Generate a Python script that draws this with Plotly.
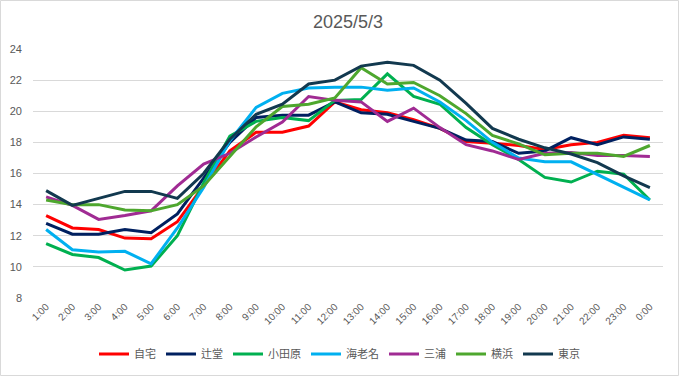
import plotly.graph_objects as go

hours = ["1:00","2:00","3:00","4:00","5:00","6:00","7:00","8:00","9:00","10:00","11:00","12:00",
         "13:00","14:00","15:00","16:00","17:00","18:00","19:00","20:00","21:00","22:00","23:00","0:00"]

jitaku   = [13.3,12.5,12.4,11.85,11.8,12.9,15.2,17.45,18.65,18.65,19.05,20.6,20.1,19.9,19.45,18.9,18.05,17.95,17.8,17.55,17.85,18.0,18.45,18.3]
tsujido  = [12.8,12.1,12.1,12.4,12.2,13.4,15.7,18.0,19.6,19.75,19.75,20.6,19.9,19.8,19.35,18.9,18.15,18.05,17.3,17.45,18.3,17.85,18.35,18.2]
odawara  = [11.5,10.8,10.6,9.8,10.05,12.0,15.4,18.4,19.35,19.6,19.4,20.7,20.75,22.4,20.95,20.45,18.95,17.85,16.9,15.75,15.45,16.15,15.95,14.3]
ebina    = [12.4,11.1,10.95,11.0,10.2,12.5,15.1,18.1,20.25,21.15,21.5,21.55,21.55,21.35,21.5,20.6,19.4,18.0,17.0,16.75,16.75,15.95,15.15,14.3]
miura    = [14.5,13.95,13.05,13.3,13.6,15.2,16.6,17.3,18.35,19.3,20.95,20.7,20.6,19.35,20.2,18.95,17.85,17.45,16.9,17.3,17.35,17.15,17.15,17.1]
yokohama = [14.3,14.0,14.0,13.65,13.6,14.0,15.2,17.1,19.0,20.3,20.45,20.85,22.8,21.75,21.85,21.0,19.85,18.45,17.9,17.2,17.3,17.3,17.1,17.8]
tokyo    = [14.9,13.95,14.4,14.85,14.85,14.4,16.0,18.2,19.8,20.45,21.75,22.0,22.9,23.15,22.95,22.0,20.5,18.9,18.2,17.65,17.25,16.7,15.85,15.1]

series = [
    ("自宅", jitaku, "#FF0000"),
    ("辻堂", tsujido, "#002060"),
    ("小田原", odawara, "#00B050"),
    ("海老名", ebina, "#00B0F0"),
    ("三浦", miura, "#A02B93"),
    ("横浜", yokohama, "#4EA72E"),
    ("東京", tokyo, "#12394F"),
]

yticks = [8, 10, 12, 14, 16, 18, 20, 22, 24]

fig = go.Figure()
for name, vals, col in series:
    fig.add_trace(go.Scatter(x=hours, y=vals, name=name, mode="lines",
                             line=dict(color=col, width=3)))

font_main = "Liberation Sans, Arial, Noto Sans CJK JP, sans-serif"
fig.update_layout(
    width=679, height=376,
    margin=dict(l=33, r=16, t=49, b=78, autoexpand=False),
    paper_bgcolor="white", plot_bgcolor="white",
    font=dict(family=font_main, color="#595959", size=11),
    title=dict(text="2025/5/3", x=0.5, xanchor="center", xref="paper",
               yref="container", y=1 - 22/376, yanchor="middle",
               font=dict(size=18, color="#595959")),
    showlegend=True,
    legend=dict(orientation="h", x=0.5, xanchor="center", xref="container",
                yref="container", y=1 - 354/376, yanchor="middle",
                font=dict(size=11, color="#595959", family="Noto Sans CJK JP, sans-serif"),
                itemwidth=30, traceorder="normal"),
    xaxis=dict(type="category", range=[-0.5, 23.5], tickangle=-45, showgrid=False,
               showline=False, ticks="", automargin=False,
               tickfont=dict(size=10, color="#595959")),
    yaxis=dict(range=[8, 24], tickvals=yticks, showgrid=True, gridcolor="#D9D9D9",
               gridwidth=1, zeroline=False, showline=False, ticks="", automargin=False,
               ticklabelstandoff=10, tickfont=dict(size=11, color="#595959")),
    shapes=[dict(type="rect", xref="paper", yref="paper",
                 x0=(0.5-33)/630, x1=(678.5-33)/630,
                 y0=(298-375.5)/249, y1=(298-0.5)/249,
                 line=dict(color="#D9D9D9", width=1), fillcolor="rgba(0,0,0,0)", layer="below")],
)

fig.write_html("out.html", config={"displayModeBar": False},
               post_script="document.body.style.margin='0';document.body.style.overflow='hidden';")
